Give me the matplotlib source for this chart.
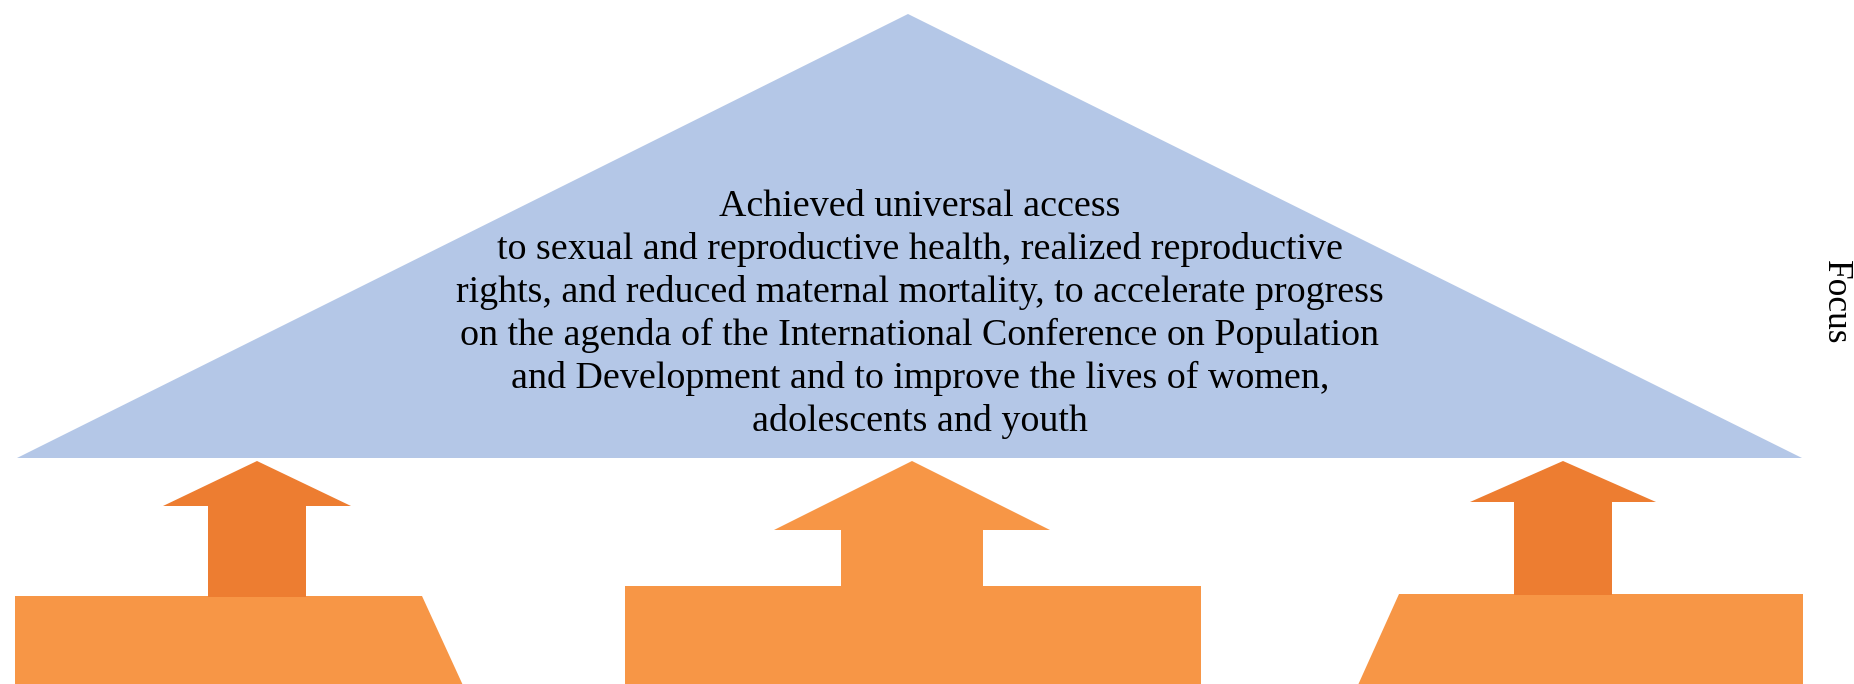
import matplotlib.pyplot as plt
from matplotlib.patches import Polygon

# diagram geometry, in reference pixels (y grows downward)
roof = [(908, 14), (17, 458), (1802, 458)]

arrow_tips = [257, 912, 1563]
arrow_tip_y = 461
head_bottom = [506, 530, 502]
head_half = [94, 138, 93]
shaft_half = [49, 71, 49]
block_top = [596, 586, 594]
arrow_colors = ['#ED7D31', '#F79646', '#ED7D31']

blocks = [
    [(15, 596), (422, 596), (472, 705), (15, 705)],
    [(625, 586), (1201, 586), (1201, 705), (625, 705)],
    [(1399, 594), (1803, 594), (1803, 705), (1349, 705)],
]
block_color = '#F79646'
roof_color = '#B4C7E7'

goal_lines = [
    'Achieved universal access',
    'to sexual and reproductive health, realized reproductive',
    'rights, and reduced maternal mortality, to accelerate progress',
    'on the agenda of the International Conference on Population',
    'and Development and to improve the lives of women,',
    'adolescents and youth',
]
side_label = 'Focus'

plt.rcParams['font.family'] = ['Liberation Serif', 'DejaVu Serif']

fig = plt.figure(figsize=(18.54, 6.84), dpi=100)
ax = fig.add_axes([0, 0, 1, 1])
ax.set_xlim(0, 1854)
ax.set_ylim(684, 0)
ax.axis('off')

ax.add_patch(Polygon(roof, closed=True, color=roof_color, lw=0))

for b in blocks:
    ax.add_patch(Polygon(b, closed=True, color=block_color, lw=0))

for i in range(3):
    x = arrow_tips[i]
    pts = [(x, arrow_tip_y),
           (x + head_half[i], head_bottom[i]),
           (x + shaft_half[i], head_bottom[i]),
           (x + shaft_half[i], block_top[i] + 1),
           (x - shaft_half[i], block_top[i] + 1),
           (x - shaft_half[i], head_bottom[i]),
           (x - head_half[i], head_bottom[i])]
    ax.add_patch(Polygon(pts, closed=True, color=arrow_colors[i], lw=0))

for i, line in enumerate(goal_lines):
    ax.text(920, 216 + 43 * i, line, ha='center', va='baseline',
            fontsize=27.4, color='black')

ax.text(1835, 302, side_label, rotation=-90, ha='center', va='center',
        fontsize=25.5, color='black')

plt.savefig('out.png', dpi=100)
